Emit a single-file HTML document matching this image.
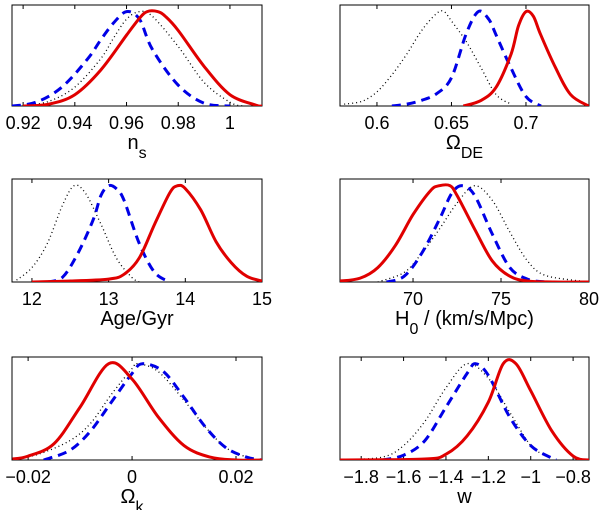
<!DOCTYPE html>
<html><head><meta charset="utf-8"><style>
html,body{margin:0;padding:0;background:#fff;}
svg{display:block;font-family:"Liberation Sans",Arial,sans-serif;}
</style></head><body>
<svg id="chart" width="600" height="510" viewBox="0 0 600 510"></svg>
<script>
// ---- data ----
const nsTicks=[0.92,0.94,0.96,0.98,1];
const nsTickLabels=["0.92","0.94","0.96","0.98","1"];
const nsRedX=[0.92,0.93,0.94,0.95,0.96,0.965,0.968,0.972,0.975,0.98,0.99,1.0,1.01,1.0124];
const nsRedY=[0.0,0.02,0.12,0.38,0.75,0.93,1.0,1.0,0.95,0.80,0.42,0.12,0.01,0.0];
const nsBlueX=[0.9157,0.925,0.935,0.945,0.95,0.955,0.96,0.965,0.97,0.98,0.99,1.0];
const nsBlueY=[0.0,0.04,0.2,0.5,0.7,0.88,1.0,0.92,0.6,0.22,0.03,0.0];
const nsBlackX=[0.92,0.93,0.94,0.95,0.955,0.96,0.965,0.97,0.98,0.99,1.0,1.005];
const nsBlackY=[0,0.05,0.2,0.5,0.72,0.92,1.0,0.95,0.63,0.25,0.04,0];

const deTicks=[0.6,0.65,0.7];
const deTickLabels=["0.6","0.65","0.7"];
const deRedX=[0.658,0.67,0.68,0.69,0.695,0.7,0.705,0.71,0.72,0.73,0.742];
const deRedY=[0,0.06,0.2,0.55,0.85,1.0,0.95,0.75,0.4,0.12,0.0];
const deBlueX=[0.61,0.62,0.63,0.64,0.65,0.66,0.668,0.675,0.68,0.69,0.70,0.71];
const deBlueY=[0,0.02,0.06,0.13,0.3,0.77,1.0,0.92,0.75,0.4,0.1,0.0];
const deBlackX=[0.578,0.59,0.60,0.61,0.62,0.63,0.64,0.645,0.65,0.66,0.67,0.68,0.69];
const deBlackY=[0.02,0.05,0.15,0.33,0.55,0.8,0.98,1.0,0.9,0.68,0.4,0.12,0.02];

const ageTicks=[12,13,14,15];
const ageTickLabels=["12","13","14","15"];
const ageRedX=[12.0,12.5,13.0,13.2,13.4,13.6,13.8,13.9,14.0,14.2,14.4,14.6,14.8,15.0];
const ageRedY=[0,0.01,0.03,0.08,0.25,0.6,0.93,1.0,0.97,0.75,0.42,0.2,0.06,0.01];
const ageBlueX=[12.2,12.4,12.6,12.8,12.9,13.0,13.1,13.2,13.4,13.6,13.8];
const ageBlueY=[0,0.05,0.3,0.65,0.9,1.0,0.97,0.85,0.4,0.1,0.0];
const ageBlackX=[11.8,12.0,12.2,12.4,12.55,12.7,12.9,13.1,13.3,13.4];
const ageBlackY=[0.02,0.15,0.4,0.8,1.0,0.92,0.6,0.25,0.05,0];

const h0Ticks=[70,75,80];
const h0TickLabels=["70","75","80"];
const h0RedX=[65.85,67,68,69,70,71,71.5,72.1,72.5,73.5,74.5,75.5,76.5,78,80];
const h0RedY=[0.01,0.04,0.15,0.38,0.7,0.95,1.0,1.0,0.9,0.55,0.22,0.06,0.01,0,0];
const h0BlueX=[68.5,69.5,70.5,71.5,72.2,72.8,73.5,74.5,75.5,76.5,77.5];
const h0BlueY=[0,0.06,0.3,0.65,0.92,1.0,0.9,0.5,0.15,0.03,0];
const h0BlackX=[68,69.5,70.5,71.5,72.5,73.5,74.5,75.5,76.5,77.5,79.5];
const h0BlackY=[0.0,0.1,0.3,0.55,0.82,1.0,0.85,0.52,0.22,0.07,0.01];

const okTicks=[-0.02,0,0.02];
const okTickLabels=["\u22120.02","0","0.02"];
const okRedX=[-0.023,-0.02,-0.015,-0.01,-0.0045,0,0.005,0.01,0.015,0.02,0.025];
const okRedY=[0.01,0.04,0.17,0.55,1.0,0.84,0.45,0.15,0.03,0.0,0];
const okBlueX=[-0.017,-0.012,-0.008,-0.004,0,0.002,0.006,0.01,0.014,0.018,0.022,0.025];
const okBlueY=[0,0.1,0.3,0.6,0.9,1.0,0.92,0.65,0.35,0.13,0.03,0];
const okBlackX=[-0.023,-0.018,-0.012,-0.008,-0.004,0,0.001,0.005,0.01,0.014,0.018,0.022];
const okBlackY=[0.0,0.06,0.2,0.38,0.68,0.95,1.0,0.92,0.62,0.35,0.13,0.03];

const wTicks=[-1.8,-1.6,-1.4,-1.2,-1,-0.8];
const wTickLabels=["\u22121.8","\u22121.6","\u22121.4","\u22121.2","\u22121","\u22120.8"];
const wRedX=[-1.9,-1.5,-1.4,-1.3,-1.2,-1.13,-1.07,-1.0,-0.9,-0.8,-0.725];
const wRedY=[0,0.01,0.06,0.25,0.6,1.0,1.0,0.72,0.3,0.04,0];
const wBlueX=[-1.7,-1.6,-1.5,-1.4,-1.3,-1.26,-1.2,-1.1,-1.0,-0.9,-0.88];
const wBlueY=[0,0.05,0.2,0.55,0.9,1.0,0.88,0.45,0.15,0.02,0];
const wBlackX=[-1.9,-1.7,-1.6,-1.5,-1.4,-1.3,-1.2,-1.1,-1.0,-0.93];
const wBlackY=[0,0.03,0.15,0.4,0.75,1.0,0.85,0.5,0.15,0.05];

// ---- drawing ----
const NS="http://www.w3.org/2000/svg";
const svg=document.getElementById('chart');
function mk(tag,attrs,parent){const e=document.createElementNS(NS,tag);for(const k in attrs)e.setAttribute(k,attrs[k]);(parent||svg).appendChild(e);return e;}
function smoothPath(p){
  let d='M'+p[0][0].toFixed(1)+','+p[0][1].toFixed(1);
  for(let i=0;i<p.length-1;i++){
    const p0=p[Math.max(0,i-1)],p1=p[i],p2=p[i+1],p3=p[Math.min(p.length-1,i+2)];
    const c1x=p1[0]+(p2[0]-p0[0])/6,c1y=p1[1]+(p2[1]-p0[1])/6;
    const c2x=p2[0]-(p3[0]-p1[0])/6,c2y=p2[1]-(p3[1]-p1[1])/6;
    d+=' C'+c1x.toFixed(1)+','+c1y.toFixed(1)+' '+c2x.toFixed(1)+','+c2y.toFixed(1)+' '+p2[0].toFixed(1)+','+p2[1].toFixed(1);
  }
  return d;
}

function panel(key,box,xmin,xmax,ticks,labels,series,title){
  const g=mk('g',{});
  
  
  const sx=v=>box.x+(v-xmin)/(xmax-xmin)*box.w;
  const sy=v=>box.y+box.h-v/1.07*box.h;
  const clipId='clip-'+key;
  const cp=mk('clipPath',{id:clipId},g);
  mk('rect',{x:box.x,y:box.y,width:box.w,height:box.h},cp);
  const frame=mk('rect',{x:box.x,y:box.y,width:box.w,height:box.h,fill:'none',stroke:'#000','stroke-width':1},g);
  
  
  ticks.forEach((t,i)=>{
    const x=sx(t);
    const tb=mk('line',{x1:x,x2:x,y1:box.y+box.h,y2:box.y+box.h-4,stroke:'#000','stroke-width':1},g);
    
    
    const tt=mk('line',{x1:x,x2:x,y1:box.y,y2:box.y+4,stroke:'#000','stroke-width':1},g);
    
    
    const lb=mk('text',{x:x,y:box.y+box.h+23,'font-size':18,'text-anchor':'middle',fill:'#000'},g);
    lb.textContent=labels[i];
    
    
  });
  const sg=mk('g',{'clip-path':'url(#'+clipId+')'},g);
  series.forEach(s=>{
    const pts=s.x.map((v,i)=>[sx(v),sy(s.y[i])]);
    const attrs={d:smoothPath(pts),fill:'none',stroke:s.color,'stroke-width':s.w,'stroke-linejoin':'round'};
    if(s.dash)attrs['stroke-dasharray']=s.dash;
    const pl=mk('path',attrs,sg);
    
    
  });
  const t=mk('text',{x:box.x+box.w/2+(title.dx||0),y:box.y+box.h+43,'font-size':20,'text-anchor':'middle',fill:'#000'},g);
  
  
  t.appendChild(document.createTextNode(title.main));
  if(title.sub){
    const ts=mk('tspan',{dy:9,'font-size':16},t);
    ts.textContent=title.sub;
    if(title.rest){const tr=mk('tspan',{dy:-9,'font-size':20},t);tr.textContent=title.rest;}
  }
}
function S(x,y,name){
  const st={red:{color:'#e00000',w:3},blue:{color:'#0000e6',w:3,dash:'9 6'},black:{color:'#000',w:1.3,dash:'1 3'}}[name];
  return Object.assign({x:x,y:y,name:name},st);
}
const L={x:12,w:250},R={x:340,w:249};
panel('ns',{x:L.x,y:5,w:L.w,h:101},0.9157,1.0124,nsTicks,nsTickLabels,
  [S(nsBlackX,nsBlackY,'black'),S(nsBlueX,nsBlueY,'blue'),S(nsRedX,nsRedY,'red')],{main:'n',sub:'s'});
panel('omega-de',{x:R.x,y:5,w:R.w,h:101},0.5752,0.7423,deTicks,deTickLabels,
  [S(deBlackX,deBlackY,'black'),S(deBlueX,deBlueY,'blue'),S(deRedX,deRedY,'red')],{main:'\u03A9',sub:'DE'});
panel('age',{x:L.x,y:179,w:L.w,h:103},11.74,15,ageTicks,ageTickLabels,
  [S(ageBlackX,ageBlackY,'black'),S(ageBlueX,ageBlueY,'blue'),S(ageRedX,ageRedY,'red')],{main:'Age/Gyr'});
panel('h0',{x:R.x,y:179,w:R.w,h:103},65.85,80,h0Ticks,h0TickLabels,
  [S(h0BlackX,h0BlackY,'black'),S(h0BlueX,h0BlueY,'blue'),S(h0RedX,h0RedY,'red')],{main:'H',sub:'0',rest:' / (km/s/Mpc)'});
panel('omega-k',{x:L.x,y:357,w:L.w,h:103},-0.0231,0.025,okTicks,okTickLabels,
  [S(okBlackX,okBlackY,'black'),S(okBlueX,okBlueY,'blue'),S(okRedX,okRedY,'red')],{main:'\u03A9',sub:'k',dx:-5});
panel('w',{x:R.x,y:357,w:R.w,h:103},-1.9,-0.725,wTicks,wTickLabels,
  [S(wBlackX,wBlackY,'black'),S(wBlueX,wBlueY,'blue'),S(wRedX,wRedY,'red')],{main:'w'});
</script>
</body></html>
